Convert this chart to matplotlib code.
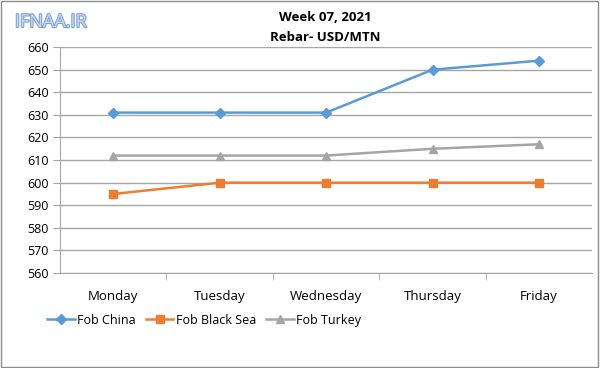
#!/usr/bin/env python3

# Weekly rebar prices, week 07 2021.

import matplotlib.pyplot as plt
import matplotlib.patheffects as pe
from matplotlib.patches import Rectangle

days = ["Monday", "Tuesday", "Wednesday", "Thursday", "Friday"]
fob_china = [631, 631, 631, 650, 654]
fob_black_sea = [595, 600, 600, 600, 600]
fob_turkey = [612, 612, 612, 615, 617]

plt.rcParams['font.family'] = ['Open Sans', 'DejaVu Sans']
plt.rcParams['font.size'] = 9

fig = plt.figure(figsize=(6, 3.68), dpi=100)
ax = fig.add_axes([0.1, 0.258, 0.887, 0.614])

x = range(len(days))
ax.plot(x, fob_china, color="#5b9bd5", lw=1.8, marker="D", ms=5, label="Fob China")
ax.plot(x, fob_black_sea, color="#ed7d31", lw=1.8, marker="s", ms=6, label="Fob Black Sea")
ax.plot(x, fob_turkey, color="#a5a5a5", lw=1.8, marker="^", ms=6, label="Fob Turkey")

ax.set_xlim(-0.5, len(days) - 0.5)
ax.set_ylim(560, 660)
ax.set_yticks(range(560, 661, 10))
ax.set_xticks(list(x))
ax.set_xticklabels(days, fontsize=9.5)
ax.set_xticks([i + 0.5 for i in range(len(days) - 1)], minor=True)
ax.yaxis.grid(True, color="#a6a6a6", lw=1)
ax.set_axisbelow(True)

for s in ["top", "right"]:
    ax.spines[s].set_visible(False)
for s in ["left", "bottom"]:
    ax.spines[s].set_color("#a6a6a6")
ax.tick_params(axis="y", length=5, color="#a6a6a6", pad=3)
ax.tick_params(axis="x", which="major", length=0, pad=12)
ax.tick_params(axis="x", which="minor", length=5, color="#a6a6a6")

fig.text(0.542, 0.952, "Week 07, 2021", ha="center", va="center", fontsize=9.5, fontweight="bold")
fig.text(0.542, 0.898, "Rebar- USD/MTN", ha="center", va="center", fontsize=9.5, fontweight="bold")

fig.text(0.025, 0.94, "IFNAA.IR", ha="left", va="center", fontsize=13, color="#c5d9f1",
         path_effects=[pe.withStroke(linewidth=1.5, foreground="#7f9fcf")])

fig.legend(loc="center left", bbox_to_anchor=(0.06, 0.13), ncol=3, frameon=False,
           handlelength=2.2, columnspacing=0.8, handletextpad=0.2, fontsize=9)

fig.patches.append(Rectangle((0.002, 0.003), 0.995, 0.993, transform=fig.transFigure,
                             fill=False, edgecolor="#8c8c8c", lw=1))

plt.savefig("out.png", dpi=100)
plt.close()
